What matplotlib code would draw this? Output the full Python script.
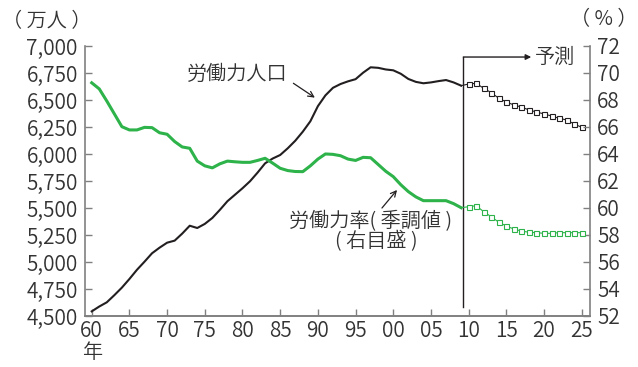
import matplotlib
matplotlib.use("Agg")
import matplotlib.pyplot as plt

plt.rcParams['font.family'] = ['Noto Sans CJK JP', 'DejaVu Sans']
plt.rcParams['font.weight'] = 350

# 実績 (1960-2009 年)
years = list(range(1960, 2010))
labor_force = [4540, 4585, 4624, 4690, 4760, 4840, 4925, 5000, 5078, 5130,
               5176, 5195, 5260, 5333, 5312, 5350, 5405, 5480, 5560, 5620,
               5680, 5745, 5825, 5911, 5955, 5988, 6050, 6120, 6204, 6300,
               6440, 6540, 6610, 6645, 6670, 6690, 6750, 6800, 6795, 6780,
               6772, 6740, 6692, 6665, 6652, 6660, 6672, 6682, 6660, 6630]
participation = [69.25, 68.8, 67.9, 66.95, 66.0, 65.76, 65.76, 65.95, 65.93, 65.55,
                 65.44, 64.9, 64.5, 64.4, 63.45, 63.1, 62.95, 63.25, 63.45, 63.4,
                 63.36, 63.36, 63.5, 63.66, 63.3, 62.92, 62.75, 62.68, 62.67, 63.1,
                 63.6, 63.98, 63.95, 63.85, 63.6, 63.5, 63.73, 63.7, 63.2, 62.7,
                 62.3, 61.7, 61.19, 60.8, 60.52, 60.52, 60.52, 60.52, 60.3, 60.0]

# 予測 (2010-2025 年)
fc_years = list(range(2010, 2026))
fc_labor_force = [6645, 6652, 6605, 6565, 6513, 6479, 6451, 6432,
                  6405, 6386, 6368, 6349, 6328, 6312, 6275, 6244]
fc_participation = [60.07, 60.15, 59.7, 59.33, 58.92, 58.64, 58.42, 58.27,
                    58.18, 58.15, 58.1, 58.1, 58.15, 58.15, 58.15, 58.15]

left_ticks = list(range(4500, 7001, 250))
right_ticks = list(range(52, 73, 2))
x_ticks = list(range(1960, 2026, 5))

BLACK = '#231f20'
GREEN = '#2db34a'
GRAY = '#808080'
TXT = '#333333'

fig = plt.figure(figsize=(6.38, 3.67), dpi=100)
ax = fig.add_axes([0.1329, 0.1398, 0.7919, 0.7357])
ax2 = ax.twinx()

# 労働力人口 (左目盛)
ax.plot(years, labor_force, color=BLACK, lw=1.5, solid_joinstyle='round')
ax.plot([years[-1]] + fc_years, [labor_force[-1]] + fc_labor_force, color=BLACK,
        lw=0.8, marker='s', ms=3.6, mfc='white', mec=BLACK, mew=0.8,
        markevery=list(range(1, len(fc_years) + 1)))

# 労働力率 (右目盛)
ax2.plot(years, participation, color=GREEN, lw=2.2, solid_joinstyle='round')
ax2.plot([years[-1]] + fc_years, [participation[-1]] + fc_participation, color=GREEN,
         lw=0.8, marker='s', ms=3.6, mfc='white', mec=GREEN, mew=0.8,
         markevery=list(range(1, len(fc_years) + 1)))

ax.set_xlim(1959.08, 2026.1)
ax.set_ylim(4500, 7000)
ax2.set_ylim(52, 72)

ax.set_xticks(x_ticks)
ax.set_xticklabels([f"{y % 100:02d}" for y in x_ticks])
ax.set_yticks(left_ticks)
ax.set_yticklabels([f"{v:,}" for v in left_ticks])
ax2.set_yticks(right_ticks)
ax2.set_yticklabels([str(v) for v in right_ticks])

for a in (ax, ax2):
    for s in a.spines.values():
        s.set_color(GRAY)
        s.set_linewidth(1.2)
    a.spines['top'].set_visible(False)
    a.tick_params(direction='in', length=4.8, width=1, color=GRAY,
                  labelsize=15, labelcolor=TXT, pad=5)
ax.spines['right'].set_visible(False)
ax2.spines['left'].set_visible(False)
ax.tick_params(axis='x', pad=3)

# 予測区間の区切り線と矢印
split = 2009.3
ax.plot([split, split], [4581, 6895], color=BLACK, lw=1.0)
ax.annotate('', xy=(2018.3, 6895), xytext=(split, 6895),
            arrowprops=dict(arrowstyle='-|>', color=BLACK, lw=1.0,
                            shrinkA=0, shrinkB=0, mutation_scale=8))
ax.text(2021.5, 6895, '予測', fontsize=14.5, color=TXT, ha='center', va='center')

ax.text(1979.3, 6729, '労働力人口', fontsize=14.5, color=TXT, ha='center', va='center')
ax.annotate('', xy=(1989.6, 6519), xytext=(1986.75, 6652),
            arrowprops=dict(arrowstyle='->', color=BLACK, lw=0.9,
                            shrinkA=0, shrinkB=0, mutation_scale=10))

ax.text(1997.05, 5370, '労働力率( 季調値 )', fontsize=14.5, color=TXT,
        ha='center', va='center')
ax.text(1997.7, 5185, '( 右目盛 )', fontsize=14.5, color=TXT,
        ha='center', va='center')
ax.annotate('', xy=(2000.5, 5664), xytext=(1998.5, 5497),
            arrowprops=dict(arrowstyle='->', color=BLACK, lw=0.9,
                            shrinkA=0, shrinkB=0, mutation_scale=10))

fig.text(47 / 638, 1 - 22 / 367, '（ 万人 ）', fontsize=14.5, color=TXT,
         ha='center', va='center')
fig.text(604 / 638, 1 - 20 / 367, '（ % ）', fontsize=14.5, color=TXT,
         ha='center', va='center')
fig.text(92 / 638, 1 - 353 / 367, '年', fontsize=14.5, color=TXT,
         ha='center', va='center')

fig.savefig('out.png', dpi=100)
